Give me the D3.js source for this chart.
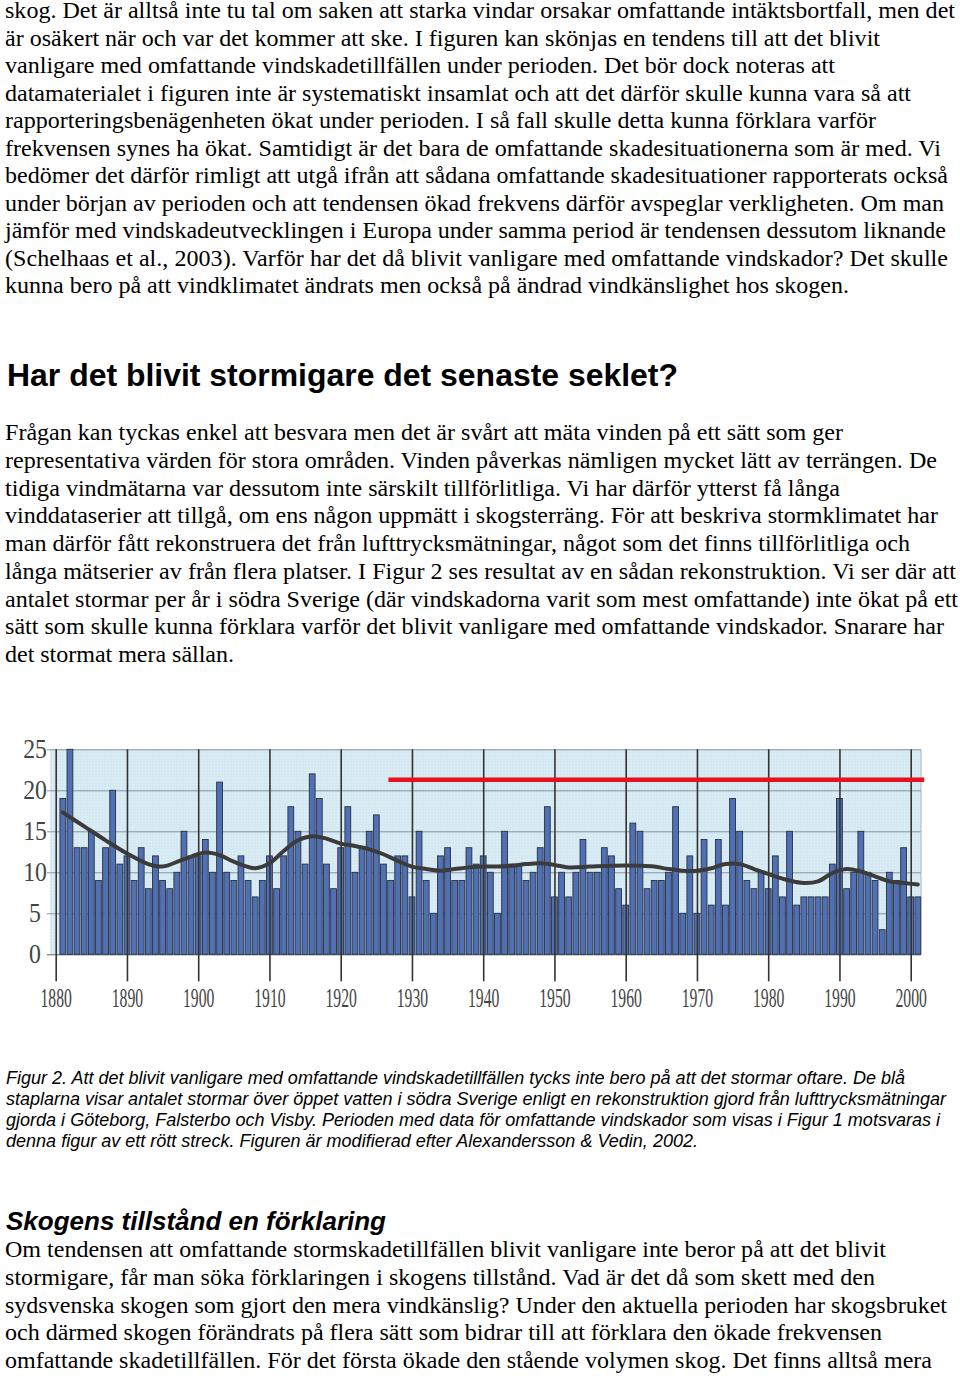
<!DOCTYPE html>
<html><head><meta charset="utf-8">
<script src="https://cdn.jsdelivr.net/npm/d3@7"></script>
<style>html,body{margin:0;padding:0;background:#fff;}svg{display:block}</style>
</head><body>
<svg id="c" width="960" height="1378"></svg>
<script>
// ---------- DATA ----------
const years = d3.range(1881, 2002);
const stormCounts = [
  19, 25, 13, 13, 15, 9, 13, 20, 11, 12,
  9, 13, 8, 12, 9, 8, 10, 15, 12, 12,
  14, 10, 21, 10, 9, 12, 9, 7, 9, 12,
  8, 12, 18, 15, 11, 22, 19, 11, 8, 13,
  18, 10, 13, 15, 17, 11, 9, 12, 12, 7,
  15, 9, 5, 12, 13, 9, 9, 13, 11, 12,
  10, 5, 15, 11, 11, 9, 10, 13, 18, 7,
  10, 7, 10, 14, 10, 10, 13, 12, 8, 6,
  16, 15, 8, 9, 9, 10, 18, 5, 12, 5,
  14, 6, 14, 6, 19, 15, 9, 8, 10, 8,
  12, 7, 15, 6, 7, 7, 7, 7, 11, 19,
  8, 10, 15, 10, 9, 3, 10, 9, 13, 7,
  7
];
const trendYears = [1881,1884,1887,1890,1893,1895,1898,1901,1903,1905,1908,1910,1912,1914,1916,1918,1920,1922,1924,1926,1928,1930,1932,1934,1936,1938,1940,1942,1944,1946,1948,1950,1952,1955,1958,1962,1964,1966,1968,1970,1972,1974,1976,1978,1980,1983,1985,1987,1989,1991,1993,1995,1997,1999,2001];
const trendValues = [17.3,15.6,13.9,12.3,11.0,10.7,11.6,12.4,12.1,11.3,10.5,11.1,12.6,13.9,14.4,14.1,13.5,13.2,12.8,12.2,11.4,10.7,10.4,10.2,10.4,10.6,10.7,10.7,10.8,11.0,11.1,10.9,10.6,10.7,10.8,10.8,10.7,10.4,10.2,10.2,10.5,11.0,11.0,10.4,9.8,9.0,8.7,8.9,9.9,10.4,10.1,9.5,8.9,8.7,8.5];
const damagePeriod = [1926.7, 2001.9];
const damagePeriodLevel = 21.3;
const xTicks = [1880,1890,1900,1910,1920,1930,1940,1950,1960,1970,1980,1990,2000];
const yTicks = [0,5,10,15,20,25];

// ---------- TEXT ----------
const para1 = [
 ["skog. Det är alltså inte tu tal om saken att starka vindar orsakar omfattande intäktsbortfall, men det",955],
 ["är osäkert när och var det kommer att ske. I figuren kan skönjas en tendens till att det blivit",880],
 ["vanligare med omfattande vindskadetillfällen under perioden. Det bör dock noteras att",835],
 ["datamaterialet i figuren inte är systematiskt insamlat och att det därför skulle kunna vara så att",911],
 ["rapporteringsbenägenheten ökat under perioden. I så fall skulle detta kunna förklara varför",876],
 ["frekvensen synes ha ökat. Samtidigt är det bara de omfattande skadesituationerna som är med. Vi",941],
 ["bedömer det därför rimligt att utgå ifrån att sådana omfattande skadesituationer rapporterats också",948],
 ["under början av perioden och att tendensen ökad frekvens därför avspeglar verkligheten. Om man",944],
 ["jämför med vindskadeutvecklingen i Europa under samma period är tendensen dessutom liknande",946],
 ["(Schelhaas et al., 2003). Varför har det då blivit vanligare med omfattande vindskador? Det skulle",948],
 ["kunna bero på att vindklimatet ändrats men också på ändrad vindkänslighet hos skogen.",849]
];
const heading1 = [["Har det blivit stormigare det senaste seklet?",678]];
const para2 = [
 ["Frågan kan tyckas enkel att besvara men det är svårt att mäta vinden på ett sätt som ger",843],
 ["representativa värden för stora områden. Vinden påverkas nämligen mycket lätt av terrängen. De",937],
 ["tidiga vindmätarna var dessutom inte särskilt tillförlitliga. Vi har därför ytterst få långa",840],
 ["vinddataserier att tillgå, om ens någon uppmätt i skogsterräng. För att beskriva stormklimatet har",938],
 ["man därför fått rekonstruera det från lufttrycksmätningar, något som det finns tillförlitliga och",910],
 ["långa mätserier av från flera platser. I Figur 2 ses resultat av en sådan rekonstruktion. Vi ser där att",956],
 ["antalet stormar per år i södra Sverige (där vindskadorna varit som mest omfattande) inte ökat på ett",958],
 ["sätt som skulle kunna förklara varför det blivit vanligare med omfattande vindskador. Snarare har",944],
 ["det stormat mera sällan.",234]
];
const caption = [
 ["Figur 2. Att det blivit vanligare med omfattande vindskadetillfällen tycks inte bero på att det stormar oftare. De blå",905],
 ["staplarna visar antalet stormar över öppet vatten i södra Sverige enligt en rekonstruktion gjord från lufttrycksmätningar",946],
 ["gjorda i Göteborg, Falsterbo och Visby. Perioden med data för omfattande vindskador som visas i Figur 1 motsvaras i",940],
 ["denna figur av ett rött streck. Figuren är modifierad efter Alexandersson & Vedin, 2002.",698]
];
const heading2 = [["Skogens tillstånd en förklaring",386]];
const para3 = [
 ["Om tendensen att omfattande stormskadetillfällen blivit vanligare inte beror på att det blivit",886],
 ["stormigare, får man söka förklaringen i skogens tillstånd. Vad är det då som skett med den",875],
 ["sydsvenska skogen som gjort den mera vindkänslig? Under den aktuella perioden har skogsbruket",947],
 ["och därmed skogen förändrats på flera sätt som bidrar till att förklara den ökade frekvensen",882],
 ["omfattande skadetillfällen. För det första ökade den stående volymen skog. Det finns alltså mera",932]
];

const svg = d3.select("#c");

function textBlock(lines, o) {
  const g = svg.append("g");
  const els = lines.map((l, i) => g.append("text")
    .attr("x", o.x).attr("y", o.y0 + i * o.dy)
    .attr("font-family", o.family).attr("font-size", o.base)
    .attr("font-weight", o.weight || "normal").attr("font-style", o.style || "normal")
    .attr("fill", "#000").text(l[0]));
  const ratios = els.map((e, i) => (lines[i][1] - o.x) / e.node().getComputedTextLength());
  const fs = o.base * d3.median(ratios);
  els.forEach((e, i) => {
    e.attr("font-size", fs);
    e.attr("textLength", lines[i][1] - o.x).attr("lengthAdjust", "spacing");
  });
}

const serif = "'Liberation Serif','Times New Roman',serif";
const sans = "'Liberation Sans',Arial,sans-serif";
textBlock(para1, {x:5, y0:18, dy:27.5, family:serif, base:21});
textBlock(heading1, {x:7, y0:386, dy:0, family:sans, base:30, weight:"bold"});
textBlock(para2, {x:5, y0:440, dy:27.75, family:serif, base:21});
textBlock(caption, {x:6, y0:1084, dy:21, family:sans, base:16.5, style:"italic"});
textBlock(heading2, {x:6, y0:1230, dy:0, family:sans, base:25, weight:"bold", style:"italic"});
textBlock(para3, {x:5, y0:1257, dy:27.75, family:serif, base:21});

// ---------- CHART ----------
const x = d3.scaleLinear().domain([1880, 2000]).range([55.7, 910.7]);
const y = d3.scaleLinear().domain([0, 25]).range([954.3, 749.3]);
const plotL = 50, plotR = 921;
const chart = svg.append("g");

const defs = svg.append("defs");
const pat = defs.append("pattern").attr("id","dots").attr("width",3).attr("height",3).attr("patternUnits","userSpaceOnUse");
pat.append("rect").attr("width",3).attr("height",3).attr("fill","#d5e9f3");
pat.append("rect").attr("x",1).attr("y",1).attr("width",1).attr("height",1).attr("fill","#e6f2f8");

chart.append("rect").attr("x", plotL).attr("y", y(25))
  .attr("width", plotR - plotL).attr("height", y(0) - y(25)).attr("fill", "url(#dots)");

// horizontal gridlines
const grid = chart.append("g").attr("transform", `translate(47,0)`)
  .call(d3.axisRight(y).tickValues(yTicks).tickSize(plotR - 47).tickFormat(""));
grid.select(".domain").remove();
grid.selectAll(".tick line").attr("stroke", d => d === 0 ? "#5a6066" : "#87959e").attr("stroke-width", 1);

// right border
chart.append("line").attr("x1", plotR).attr("x2", plotR).attr("y1", y(25)).attr("y2", y(0))
  .attr("stroke", "#aab6bd").attr("stroke-width", 1);

// bars
chart.append("g").selectAll("rect").data(stormCounts).join("rect")
  .attr("x", (d, i) => x(years[i]) - 2.9).attr("width", 5.8)
  .attr("y", d => y(d)).attr("height", d => y(0) - y(d))
  .attr("fill", "#4f70b5").attr("stroke", "#2b2f3d").attr("stroke-width", 0.9);

// decade lines + labels
const xa = chart.append("g").attr("transform", `translate(0,${y(25)})`)
  .call(d3.axisBottom(x).tickValues(xTicks).tickSize(232).tickPadding(6.5).tickFormat(d3.format("d")));
xa.select(".domain").remove();
xa.selectAll(".tick line").attr("stroke", "#333").attr("stroke-width", 1.6);
xa.selectAll(".tick text").attr("font-family", serif).attr("font-size", 27)
  .attr("fill", "#444").attr("transform", "scale(0.58,1)");

// y labels
const ya = chart.append("g").attr("transform", "translate(35,0)")
  .call(d3.axisLeft(y).tickValues(yTicks).tickSize(0).tickPadding(0));
ya.select(".domain").remove();
ya.selectAll(".tick text").attr("x", 0).attr("text-anchor", "middle")
  .attr("font-family", serif).attr("font-size", 27).attr("fill", "#444")
  .attr("transform", "scale(0.88,1)");

// trend line
const trend = trendYears.map((yr, i) => [yr, trendValues[i]]);
chart.append("path").datum(trend)
  .attr("d", d3.line().x(d => x(d[0])).y(d => y(d[1])).curve(d3.curveCatmullRom.alpha(0.5)))
  .attr("fill", "none").attr("stroke", "#3b3b3b").attr("stroke-width", 4).attr("stroke-linecap", "round");

// red period line
chart.append("line").attr("x1", x(damagePeriod[0])).attr("x2", x(damagePeriod[1]))
  .attr("y1", y(damagePeriodLevel)).attr("y2", y(damagePeriodLevel))
  .attr("stroke", "#e8101a").attr("stroke-width", 4.5);
</script>
</body></html>
